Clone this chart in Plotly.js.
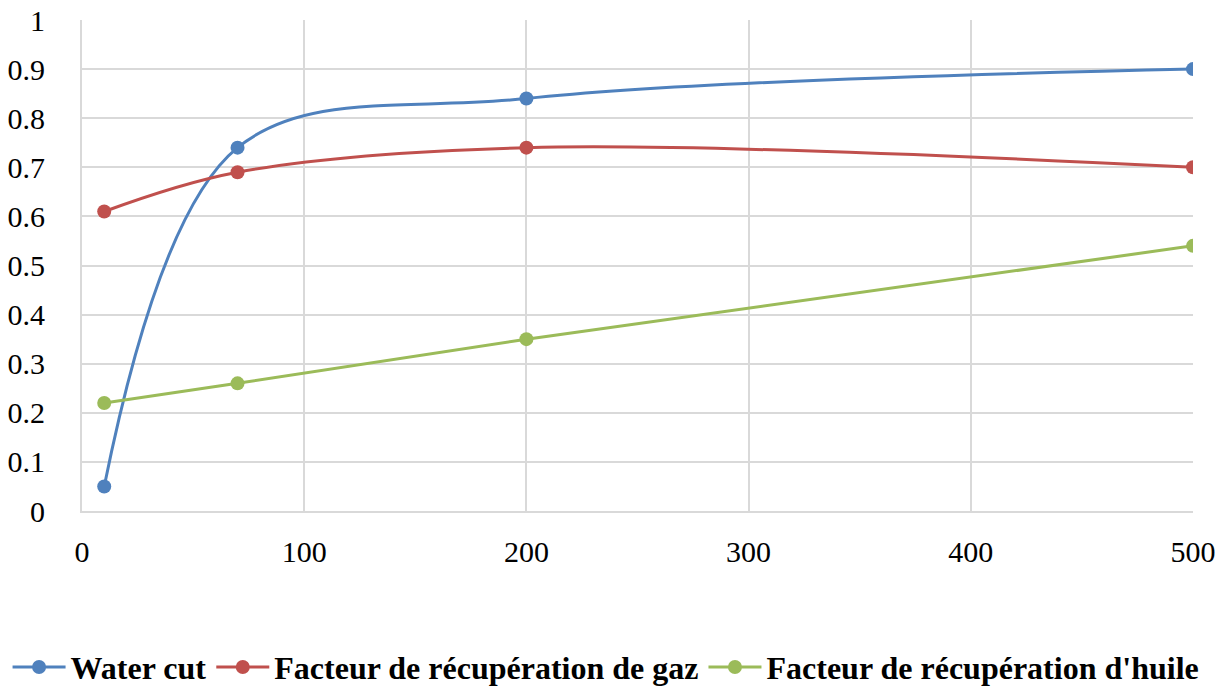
<!DOCTYPE html>
<html>
<head>
<meta charset="utf-8">
<script src="https://cdn.plot.ly/plotly-3.0.1.min.js"></script>
<style>
  html, body { margin: 0; padding: 0; background: #fff; }
  #chart { width: 1224px; height: 687px; }
</style>
</head>
<body>
<div id="chart"></div>
<script>
// Pressure / rate levels on the x axis
const xValues = [10, 70, 200, 500];

// Series values
const waterCut = [0.05, 0.74, 0.84, 0.90];
const gasRecovery = [0.61, 0.69, 0.74, 0.70];
const oilRecovery = [0.22, 0.26, 0.35, 0.54];

const seriesNames = [
  "Water cut",
  "Facteur de récupération de gaz",
  "Facteur de récupération d'huile"
];
const seriesColors = ["#4F81BD", "#C0504D", "#9BBB59"];
const seriesValues = [waterCut, gasRecovery, oilRecovery];

const traces = seriesValues.map((vals, i) => ({
  x: xValues,
  y: vals,
  name: seriesNames[i],
  type: "scatter",
  mode: "lines+markers",
  line: { color: seriesColors[i], width: 3, shape: "spline", smoothing: 1 },
  marker: { color: seriesColors[i], size: 14 }
}));

const serif = "'Liberation Serif', 'Times New Roman', serif";
const axisFont = { family: serif, size: 30, color: "#000" };

const layout = {
  width: 1224,
  height: 687,
  margin: { l: 82, r: 31, t: 20, b: 176, autoexpand: false },
  paper_bgcolor: "#fff",
  plot_bgcolor: "#fff",
  font: { family: serif, size: 30, color: "#000" },
  showlegend: true,
  legend: {
    orientation: "h",
    x: -0.067,
    xanchor: "left",
    y: -0.318,
    yanchor: "middle",
    font: { family: serif, size: 32, color: "#000", weight: "bold" },
    itemwidth: 53,
    tracegroupgap: 0
  },
  xaxis: {
    range: [0, 500],
    tickvals: [0, 100, 200, 300, 400, 500],
    ticktext: ["0", "100", "200", "300", "400", "500"],
    showgrid: true,
    gridcolor: "#D9D9D9",
    gridwidth: 2,
    zeroline: false,
    showline: true,
    linecolor: "#D9D9D9",
    linewidth: 2,
    ticks: "",
    ticklabelstandoff: 13,
    tickfont: axisFont,
    automargin: false,
    fixedrange: true
  },
  yaxis: {
    range: [0, 1],
    tickvals: [0, 0.1, 0.2, 0.3, 0.4, 0.5, 0.6, 0.7, 0.8, 0.9, 1],
    ticktext: ["0", "0.1", "0.2", "0.3", "0.4", "0.5", "0.6", "0.7", "0.8", "0.9", "1"],
    showgrid: true,
    gridcolor: "#D9D9D9",
    gridwidth: 2,
    zeroline: false,
    showline: true,
    linecolor: "#D9D9D9",
    linewidth: 2,
    ticks: "",
    ticklabelstandoff: 29,
    tickfont: axisFont,
    automargin: false,
    fixedrange: true
  }
};

Plotly.newPlot("chart", traces, layout, { displayModeBar: false, staticPlot: true });
</script>
</body>
</html>
